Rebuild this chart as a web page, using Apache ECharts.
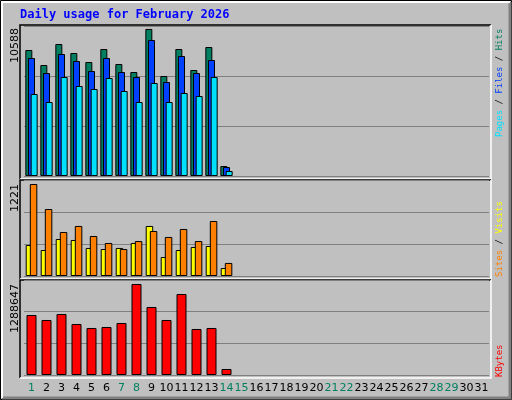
<!DOCTYPE html>
<html>
<head>
<meta charset="utf-8">
<script src="https://cdn.jsdelivr.net/npm/echarts@6/dist/echarts.min.js"></script>
<style>html,body{margin:0;padding:0;background:#c0c0c0}#chart{width:512px;height:400px}</style>
</head>
<body>
<div id="chart"></div>
<script>
var days = [];
for (var d = 1; d <= 31; d++) days.push(String(d));
var weekendDays = ['1', '7', '8', '14', '15', '21', '22', '28', '29'];

var hits   = [9072, 7992, 9504, 8856, 8208, 9144, 8064, 7488, 10588, 7200, 9144, 7632, 9288, 720];
var files  = [8496, 7416, 8784, 8280, 7560, 8496, 7488, 7128, 9792, 6768, 8640, 7416, 8352, 648];
var pages  = [5904, 5328, 7128, 6480, 6264, 7056, 6120, 5328, 6696, 5328, 5976, 5760, 7128, 360];
var visits = [411, 345, 491, 478, 372, 358, 372, 438, 664, 252, 345, 385, 398, 106];
var sites  = [1221, 889, 584, 664, 531, 438, 358, 464, 597, 518, 624, 464, 730, 173];
var kbytes = [849660, 778855, 863821, 722211, 665567, 679728, 736372, 1288647, 962948, 778855, 1147041, 651406, 665567, 84966];

var topMax = 10800, midMax = 1274, botMax = 1345290;

var chart = echarts.init(document.getElementById('chart'));
var border = { borderColor: '#000', borderWidth: 1 };
function yAxis(i, max) {
    return {
        gridIndex: i, type: 'value', min: 0, max: max, interval: max / 3,
        axisLabel: { show: false }, axisLine: { show: false }, axisTick: { show: false },
        splitLine: { lineStyle: { color: '#808080', width: 1 } }
    };
}
function xAxis(i, showLabels) {
    return {
        gridIndex: i, type: 'category', data: days,
        axisLine: { show: false }, axisTick: { show: false },
        axisLabel: {
            show: showLabels, interval: 0, margin: 8, fontSize: 11,
            fontFamily: 'DejaVu Sans', color: '#000',
            formatter: function (v) { return weekendDays.indexOf(v) >= 0 ? '{g|' + v + '}' : v; },
            rich: { g: { color: '#008060', fontSize: 11, fontFamily: 'DejaVu Sans' } }
        }
    };
}
function frame(x1, y1, x2, y2) {
    return [
        { type: 'polyline', shape: { points: [[x1, y2], [x1, y1], [x2, y1]] }, style: { stroke: '#000', lineWidth: 1.5, fill: null } },
        { type: 'polyline', shape: { points: [[x2, y1], [x2, y2], [x1, y2]] }, style: { stroke: '#fff', lineWidth: 1.5, fill: null } }
    ];
}
var mono = 'DejaVu Sans Mono';
var rf = '9px ' + mono;
var graphics = [
    { type: 'rect', shape: { x: 0.5, y: 0.5, width: 511, height: 399 }, style: { fill: null, stroke: '#000', lineWidth: 1 } },
    { type: 'polyline', shape: { points: [[510, 2], [510, 398], [2, 398]] }, style: { stroke: '#808080', lineWidth: 3, fill: null } },
    { type: 'polyline', shape: { points: [[2, 398], [2, 2], [510, 2]] }, style: { stroke: '#fff', lineWidth: 2, fill: null } },
    { type: 'text', x: 20, y: 9, style: { text: 'Daily usage for February 2026', fill: '#0000ff', font: 'bold 12px ' + mono } },
    { type: 'text', x: 10, y: 28, rotation: Math.PI / 2, style: { text: '10588', fill: '#000', font: '11px DejaVu Sans', align: 'right' } },
    { type: 'text', x: 10, y: 184, rotation: Math.PI / 2, style: { text: '1221', fill: '#000', font: '11px DejaVu Sans', align: 'right' } },
    { type: 'text', x: 10, y: 284, rotation: Math.PI / 2, style: { text: '1288647', fill: '#000', font: '11px DejaVu Sans', align: 'right' } },
    { type: 'text', x: 495, y: 137, rotation: Math.PI / 2, style: {
        text: '{c|Pages}{k| / }{b|Files}{k| / }{g|Hits}', font: rf,
        rich: { c: { fill: '#00e0ff', font: rf }, b: { fill: '#0040ff', font: rf },
                g: { fill: '#008060', font: rf }, k: { fill: '#000', font: rf } } } },
    { type: 'text', x: 495, y: 277, rotation: Math.PI / 2, style: {
        text: '{o|Sites}{k| / }{y|Visits}', font: rf,
        rich: { o: { fill: '#ff8000', font: rf }, y: { fill: '#ffff00', font: rf },
                k: { fill: '#000', font: rf } } } },
    { type: 'text', x: 495, y: 377, rotation: Math.PI / 2, style: { text: 'KBytes', fill: '#ff0000', font: rf } }
].concat(frame(20, 25, 491, 179), frame(20, 180, 491, 279), frame(20, 280, 491, 378));

chart.setOption({
    backgroundColor: '#c0c0c0',
    animation: false,
    grid: [
        { left: 24, width: 465, top: 26, height: 150 },
        { left: 24, width: 465, top: 180, height: 96 },
        { left: 24, width: 465, top: 280, height: 95 }
    ],
    xAxis: [xAxis(0, false), xAxis(1, false), xAxis(2, true)],
    yAxis: [yAxis(0, topMax), yAxis(1, midMax), yAxis(2, botMax)],
    series: [
        { type: 'bar', name: 'Hits', data: hits, barWidth: 7, barGap: '-62%', itemStyle: Object.assign({ color: '#008060' }, border) },
        { type: 'bar', name: 'Files', data: files, barWidth: 7, barGap: '-62%', itemStyle: Object.assign({ color: '#0040ff' }, border) },
        { type: 'bar', name: 'Pages', data: pages, barWidth: 7, barGap: '-62%', itemStyle: Object.assign({ color: '#00e0ff' }, border) },
        { type: 'bar', name: 'Visits', data: visits, xAxisIndex: 1, yAxisIndex: 1, barWidth: 7.5, barGap: '-45%', itemStyle: Object.assign({ color: '#ffff00' }, border) },
        { type: 'bar', name: 'Sites', data: sites, xAxisIndex: 1, yAxisIndex: 1, barWidth: 7.5, barGap: '-45%', itemStyle: Object.assign({ color: '#ff8000' }, border) },
        { type: 'bar', name: 'KBytes', data: kbytes, xAxisIndex: 2, yAxisIndex: 2, barWidth: 10, itemStyle: Object.assign({ color: '#ff0000' }, border) }
    ],
    graphic: graphics
});
</script>
</body>
</html>
